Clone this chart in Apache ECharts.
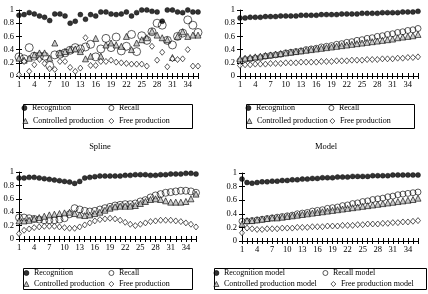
<!DOCTYPE html>
<html><head><meta charset="utf-8">
<script src="https://cdn.jsdelivr.net/npm/echarts@6/dist/echarts.min.js"></script>
<style>html,body{margin:0;padding:0;background:#fff}#c{width:428px;height:294px}</style>
</head><body><div id="c"></div>
<script>
const categories = ['1','2','3','4','5','6','7','8','9','10','11','12','13','14','15','16','17','18','19','20','21','22','23','24','25','26','27','28','29','30','31','32','33','34','35','36'];

// top-left: observed data
const dataRecognition = [0.92,0.93,0.96,0.94,0.91,0.89,0.84,0.94,0.94,0.91,0.80,0.83,0.93,0.86,0.93,0.91,0.97,0.97,0.94,0.93,0.94,0.97,0.91,0.96,1.00,1.00,0.98,0.97,0.83,1.00,1.00,0.97,0.96,1.00,0.97,0.97];
const dataRecall = [0.29,0.26,0.43,0.30,0.30,0.30,0.16,0.32,0.33,0.35,0.39,0.43,0.41,0.44,0.48,0.29,0.41,0.57,0.43,0.59,0.38,0.45,0.63,0.37,0.61,0.54,0.67,0.80,0.77,0.54,0.47,0.60,0.65,0.85,0.77,0.66];
const dataControlled = [0.27,0.24,0.27,0.32,0.35,0.35,0.27,0.50,0.35,0.37,0.40,0.41,0.37,0.26,0.30,0.57,0.30,0.47,0.50,0.47,0.45,0.60,0.40,0.50,0.55,0.58,0.68,0.62,0.58,0.55,0.28,0.60,0.67,0.60,0.62,0.62];
const dataFree = [0.02,0.22,0.07,0.17,0.25,0.19,0.11,0.10,0.22,0.22,0.13,0.07,0.12,0.58,0.16,0.16,0.22,0.22,0.24,0.21,0.20,0.19,0.18,0.18,0.18,0.15,0.45,0.24,0.36,0.14,0.26,0.25,0.26,0.40,0.15,0.15];

// top-right: model
const modelRecognition = [0.88,0.88,0.89,0.89,0.89,0.90,0.90,0.90,0.91,0.91,0.91,0.91,0.92,0.92,0.92,0.92,0.93,0.93,0.93,0.93,0.94,0.94,0.94,0.94,0.95,0.95,0.95,0.95,0.96,0.96,0.96,0.96,0.97,0.97,0.97,0.98];
const modelRecall = [0.23,0.25,0.26,0.27,0.28,0.30,0.31,0.32,0.33,0.35,0.36,0.37,0.38,0.40,0.41,0.42,0.44,0.45,0.46,0.48,0.49,0.51,0.52,0.54,0.55,0.57,0.58,0.60,0.61,0.63,0.64,0.66,0.67,0.69,0.70,0.72];
const modelControlled = [0.26,0.27,0.28,0.29,0.30,0.31,0.32,0.33,0.34,0.35,0.36,0.37,0.38,0.39,0.40,0.41,0.42,0.43,0.44,0.45,0.46,0.47,0.48,0.49,0.50,0.51,0.52,0.53,0.54,0.55,0.56,0.58,0.59,0.60,0.61,0.63];
const modelFree = [0.16,0.17,0.17,0.18,0.18,0.18,0.19,0.19,0.19,0.20,0.20,0.20,0.21,0.21,0.21,0.21,0.22,0.22,0.22,0.23,0.23,0.23,0.24,0.24,0.24,0.25,0.25,0.25,0.26,0.26,0.26,0.27,0.27,0.28,0.28,0.29];

// bottom-left: spline
const splineRecognition = [0.91,0.91,0.92,0.92,0.91,0.90,0.89,0.88,0.87,0.86,0.85,0.83,0.86,0.91,0.92,0.93,0.94,0.94,0.94,0.94,0.94,0.95,0.95,0.96,0.96,0.96,0.95,0.95,0.96,0.96,0.97,0.97,0.97,0.98,0.98,0.97];
const splineRecall = [0.32,0.32,0.31,0.30,0.29,0.28,0.28,0.28,0.29,0.31,0.37,0.46,0.44,0.42,0.41,0.42,0.44,0.46,0.48,0.50,0.51,0.52,0.52,0.53,0.56,0.58,0.62,0.65,0.67,0.69,0.70,0.71,0.72,0.72,0.71,0.69];
const splineControlled = [0.27,0.27,0.28,0.30,0.32,0.34,0.36,0.37,0.38,0.39,0.40,0.38,0.36,0.35,0.36,0.38,0.40,0.43,0.46,0.48,0.49,0.49,0.49,0.50,0.53,0.56,0.59,0.60,0.59,0.57,0.55,0.55,0.55,0.56,0.60,0.67];
const splineFree = [0.08,0.13,0.15,0.17,0.18,0.19,0.19,0.19,0.18,0.17,0.16,0.16,0.18,0.21,0.24,0.27,0.29,0.30,0.31,0.30,0.28,0.25,0.22,0.20,0.22,0.24,0.26,0.27,0.28,0.28,0.28,0.27,0.26,0.24,0.22,0.18];

// bottom-right: fitted model
const fitRecognition = [0.91,0.86,0.85,0.86,0.87,0.87,0.88,0.88,0.89,0.89,0.90,0.90,0.91,0.91,0.92,0.92,0.93,0.93,0.93,0.94,0.94,0.94,0.95,0.95,0.95,0.95,0.96,0.96,0.96,0.96,0.97,0.97,0.97,0.97,0.97,0.97];
const fitRecall = [0.29,0.29,0.30,0.31,0.32,0.33,0.34,0.35,0.36,0.37,0.38,0.40,0.41,0.42,0.44,0.45,0.46,0.48,0.49,0.50,0.52,0.53,0.55,0.56,0.58,0.59,0.61,0.62,0.63,0.65,0.66,0.68,0.69,0.70,0.71,0.72];
const fitControlled = [0.25,0.30,0.30,0.31,0.32,0.33,0.34,0.34,0.35,0.36,0.37,0.38,0.39,0.40,0.41,0.42,0.43,0.44,0.45,0.46,0.47,0.48,0.49,0.50,0.51,0.52,0.53,0.54,0.55,0.56,0.57,0.58,0.59,0.60,0.61,0.63];
const fitFree = [0.12,0.19,0.18,0.17,0.17,0.18,0.18,0.18,0.19,0.19,0.19,0.20,0.20,0.20,0.21,0.21,0.21,0.22,0.22,0.22,0.23,0.23,0.23,0.24,0.24,0.25,0.25,0.25,0.26,0.26,0.27,0.27,0.28,0.28,0.29,0.30];

const seriesNames = ['Recognition','Recall','Controlled production','Free production'];
const fitNames = ['Recognition model','Recall model','Controlled production model','Free production model'];
const captions = ['Spline','Model'];

const FONT = "'Liberation Serif','Times New Roman',serif";
const FS = 8.5;
const LFS = 8;

const panels = [
  {grid:{left:19,top:10,width:179,height:66}, names:seriesNames, data:[dataRecognition,dataRecall,dataControlled,dataFree], recallSize:8,
   leg:[[25,108],[112,108],[26,121],[112,121]], box:[23,104,169,24]},
  {grid:{left:240,top:10,width:178,height:66}, names:seriesNames, data:[modelRecognition,modelRecall,modelControlled,modelFree], recallSize:6,
   leg:[[249,108],[332,108],[250,121],[333,121]], box:[246,104,168,24]},
  {grid:{left:19,top:172,width:177,height:67}, names:seriesNames, data:[splineRecognition,splineRecall,splineControlled,splineFree], recallSize:7,
   leg:[[27,273],[112,273],[27,284],[112,284]], box:[23,268,169,21]},
  {grid:{left:242,top:173,width:176,height:68}, names:fitNames, data:[fitRecognition,fitRecall,fitControlled,fitFree], recallSize:6,
   leg:[[217,273],[326,273],[217,284],[334,284]], box:[214,268,212,21]}
];

const grids=[], xAxes=[], yAxes=[], series=[], legends=[], graphics=[];
const black = '#000';
panels.forEach((p,i)=>{
  grids.push(Object.assign({containLabel:false}, p.grid));
  const xBase = {gridIndex:i, type:'category', data:categories, boundaryGap:false, position:'bottom', splitLine:{show:false}};
  xAxes.push(Object.assign({}, xBase, {
    axisLine:{show:true, lineStyle:{color:black, width:1}},
    axisTick:{show:true, interval:0, length:3, lineStyle:{color:black, width:1}},
    axisLabel:{interval:2, margin:4, fontSize:FS, fontFamily:FONT, color:black}
  }));
  xAxes.push(Object.assign({}, xBase, {
    axisLine:{show:false},
    axisTick:{show:true, inside:true, interval:0, length:3, lineStyle:{color:black, width:1}},
    axisLabel:{show:false}
  }));
  const yBase = {gridIndex:i, type:'value', min:0, max:1, interval:0.2, position:'left', splitLine:{show:false}};
  yAxes.push(Object.assign({}, yBase, {
    axisLine:{show:true, lineStyle:{color:black, width:1}},
    axisTick:{show:true, length:3, lineStyle:{color:black, width:1}},
    axisLabel:{margin:5, fontSize:FS, fontFamily:FONT, color:black}
  }));
  yAxes.push(Object.assign({}, yBase, {
    axisLine:{show:false},
    axisTick:{show:true, inside:true, length:3, lineStyle:{color:black, width:1}},
    axisLabel:{show:false}
  }));
  const styles = [
    {symbol:'circle', symbolSize:5, itemStyle:{color:black, borderColor:black, borderWidth:0.5}},
    {symbol:'circle', symbolSize:p.recallSize, itemStyle:{color:'rgba(255,255,255,0)', borderColor:black, borderWidth:0.8}},
    {symbol:'triangle', symbolSize:6, itemStyle:{color:'#bdbdbd', borderColor:black, borderWidth:0.8}},
    {symbol:'diamond', symbolSize:[5,6], itemStyle:{color:'#fff', borderColor:black, borderWidth:0.8}}
  ];
  p.names.forEach((nm,k)=>{
    series.push(Object.assign({
      type:'scatter', name:nm, xAxisIndex:2*i, yAxisIndex:2*i, data:p.data[k],
      emphasis:{disabled:true}, silent:true, z:2+k
    }, styles[k]));
    legends.push({
      selectedMode:false, data:[nm], left:p.leg[k][0]-3.5, top:p.leg[k][1]-4.5,
      padding:0, itemWidth:5, itemHeight:5, itemGap:0,
      itemStyle:{borderWidth:0.8},
      textStyle:{fontSize:LFS, fontFamily:FONT, color:black, lineHeight:9}
    });
  });
  graphics.push({type:'rect', shape:{x:p.box[0]+0.5, y:p.box[1]+0.5, width:p.box[2], height:p.box[3]},
    style:{fill:'none', stroke:black, lineWidth:1}, silent:true});
});
graphics.push({type:'text', x:100, y:147, style:{text:captions[0], font:FS+'px '+FONT, fill:black, textAlign:'center', textVerticalAlign:'middle'}});
graphics.push({type:'text', x:326, y:147, style:{text:captions[1], font:FS+'px '+FONT, fill:black, textAlign:'center', textVerticalAlign:'middle'}});

const chart = echarts.init(document.getElementById('c'), null, {renderer:'canvas'});
chart.setOption({
  animation:false, backgroundColor:'#fff',
  grid:grids, xAxis:xAxes, yAxis:yAxes, series:series, legend:legends, graphic:graphics
});
</script></body></html>
